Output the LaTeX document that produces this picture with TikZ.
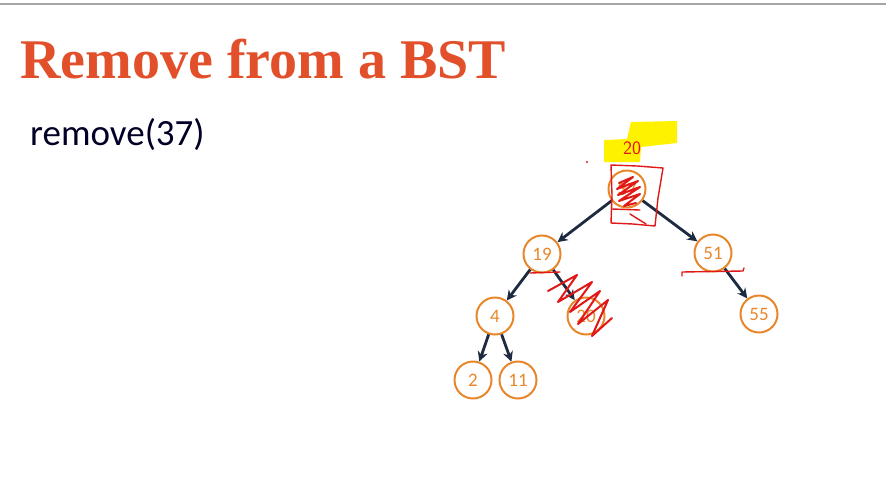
\documentclass[tikz,border=0pt]{standalone}
\usepackage{fontspec}
\setmainfont{Liberation Serif}
\newfontfamily\bodyfont{Carlito}
\usetikzlibrary{arrows.meta}
\definecolor{titlered}{HTML}{E2502B}
\definecolor{nodeorange}{HTML}{E8872A}
\definecolor{edgenavy}{HTML}{1E2A40}
\definecolor{inkred}{HTML}{E01818}
\definecolor{marker}{HTML}{FFF200}
\begin{document}
\begin{tikzpicture}[x=1pt,y=-1pt,
  bstnode/.style={circle,draw=nodeorange,line width=2pt,minimum size=37pt,inner sep=0pt,
    text=nodeorange,font=\bodyfont\fontsize{19}{19}\selectfont},
  edge/.style={draw=edgenavy,line width=2.8pt,-{Stealth[length=10pt,width=10pt]}},
  ink/.style={draw=inkred,line width=1.4pt,line cap=round,line join=round}]
\useasboundingbox (0,0) rectangle (886,488);
\fill[white] (0,0) rectangle (886,488);
% slide edge
\draw[gray!70,line width=2pt] (0,4) -- (886,4);
% heading and call
\node[anchor=base west,inner sep=0pt,text=titlered,font=\bfseries\fontsize{56}{56}\selectfont] (title) at (20,78) {Remove from a BST};
\node[anchor=base west,inner sep=0pt,font=\bodyfont\fontsize{37}{37}\selectfont,text=black!85!blue] (call) at (30,145) {remove(37)};
% highlighter behind the replacement key
\fill[marker] (604,140) -- (627,139) -- (631,122) -- (677,121) -- (677,143) -- (641,147) -- (640,162) -- (604,162) -- cycle;
\node[text=inkred,font=\sffamily\fontsize{19}{19}\selectfont] (newkey) at (632,148) {20};
% tree
\node[bstnode] (n37) at (627,189) {37};
\node[bstnode] (n19) at (542,254) {19};
\node[bstnode] (n51) at (713,253) {51};
\node[bstnode] (n4) at (495,316) {4};
\node[bstnode] (n20) at (586,316) {20};
\node[bstnode] (n55) at (759,314) {55};
\node[bstnode] (n2) at (473,380) {2};
\node[bstnode] (n11) at (518,380) {11};
\draw[edge] (n37) -- (n19);
\draw[edge] (n37) -- (n51);
\draw[edge] (n19) -- (n4);
\draw[edge] (n19) -- (n20);
\draw[edge] (n51) -- (n55);
\draw[edge] (n4) -- (n2);
\draw[edge] (n4) -- (n11);
% hand annotations
\fill[inkred] (587,162) circle (1.1pt);
\draw[ink] (611,165) -- (637,166) -- (663,168) -- (658,198) -- (655,226) -- (633,224) -- (611,223) -- (612,195) -- cycle;
\draw[ink,line width=2pt] (619,183) -- (633,177) -- (617,189) -- (638,181) -- (618,195) -- (640,187) -- (619,201) -- (640,194) -- (624,206) -- (636,203);
\draw[ink] (612,209) -- (640,210) (630,214) -- (646,224);
\draw[ink] (530,273) -- (560,272);
\draw[ink,line width=2pt] (548,291) -- (577,275) -- (558,302) -- (592,282) -- (570,312) -- (600,291) -- (578,324) -- (608,300) -- (592,336) -- (612,318);
\draw[ink] (682,276) -- (682,272) -- (743,271) -- (744,268);
\end{tikzpicture}
\end{document}
